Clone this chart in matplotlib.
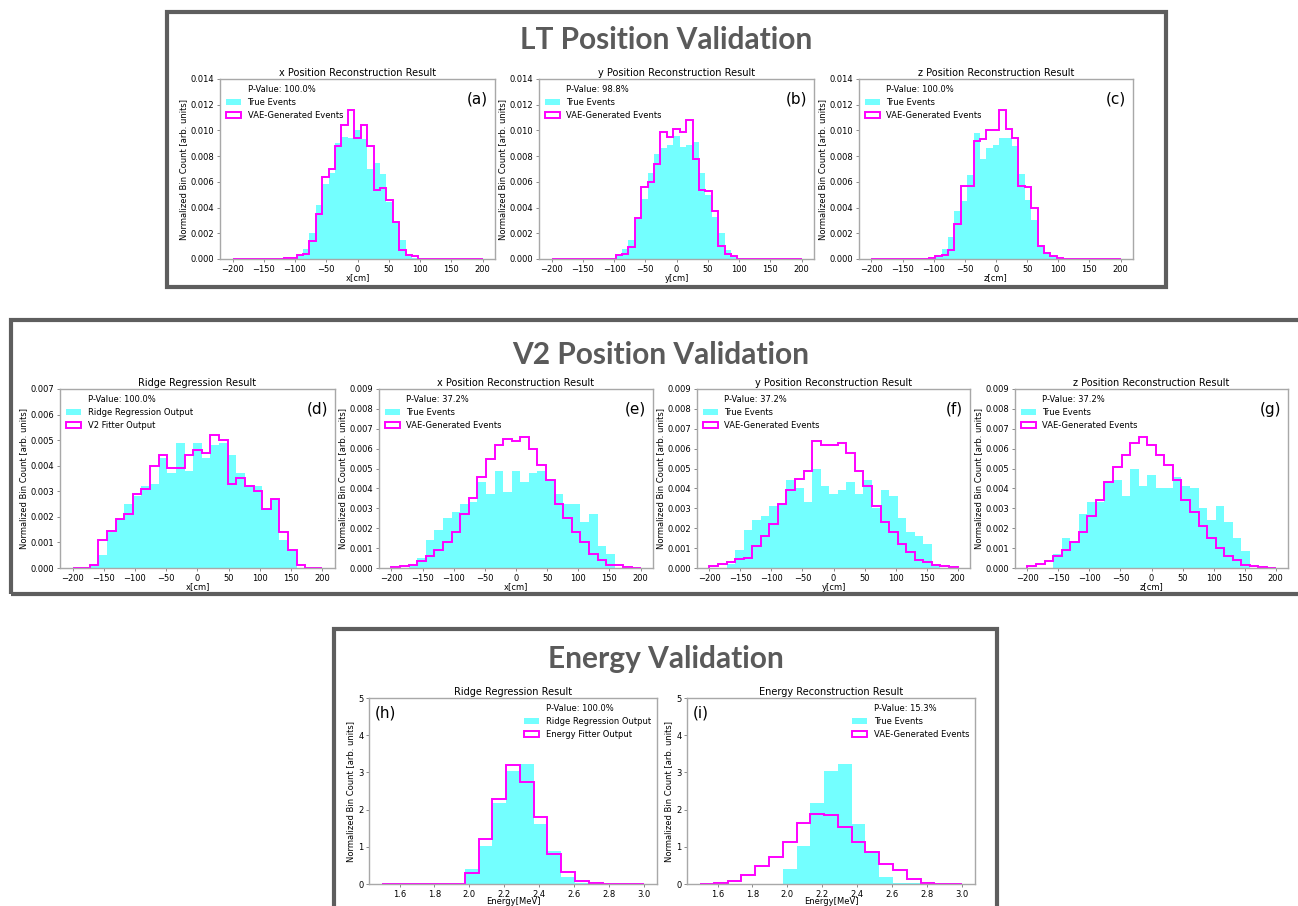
import numpy as np
import matplotlib
matplotlib.use('Agg')
import matplotlib.pyplot as plt
from matplotlib.patches import Rectangle, Patch

W, H = 1298, 906

# bin edges
lt_edges = np.linspace(-200, 200, 40)    # 39 bins
v2_edges = np.linspace(-200, 200, 30)    # 29 bins
en_edges = np.linspace(1.5, 3.0, 20)     # 19 bins

# LT panels (a)-(c)
lt_x_true = [0, 0, 0, 0, 0, 0, 0, 0, 0, 0.0001, 0.0004, 0.0008, 0.0020, 0.0042, 0.0058, 0.0067,
             0.0090, 0.0095, 0.0094, 0.0100, 0.0093, 0.0070, 0.0075, 0.0066, 0.0044, 0.0029,
             0.0015, 0.0004, 0.0001, 0, 0, 0, 0, 0, 0, 0, 0, 0, 0]
lt_x_vae = [0, 0, 0, 0, 0, 0, 0, 0, 0.0001, 0.0001, 0.0003, 0.0004, 0.0014, 0.0035, 0.0064, 0.0070,
            0.0088, 0.0104, 0.0116, 0.0094, 0.0104, 0.0088, 0.0054, 0.0055, 0.0046, 0.0029,
            0.0007, 0.0003, 0.0002, 0, 0, 0, 0, 0, 0, 0, 0, 0, 0]
lt_y_true = [0, 0, 0, 0, 0, 0, 0, 0, 0, 0.0001, 0.0004, 0.0008, 0.0015, 0.0031, 0.0047, 0.0067,
             0.0082, 0.0086, 0.0089, 0.0096, 0.0087, 0.0089, 0.0091, 0.0067, 0.0050, 0.0033,
             0.0020, 0.0007, 0.0002, 0.0001, 0, 0, 0, 0, 0, 0, 0, 0, 0]
lt_y_vae = [0, 0, 0, 0, 0, 0, 0, 0, 0, 0, 0.0003, 0.0004, 0.0009, 0.0032, 0.0056, 0.0060,
            0.0074, 0.0099, 0.0095, 0.0101, 0.0099, 0.0108, 0.0078, 0.0054, 0.0053, 0.0037,
            0.0010, 0.0004, 0.0002, 0, 0, 0, 0, 0, 0, 0, 0, 0, 0]
lt_z_true = [0, 0, 0, 0, 0, 0, 0, 0, 0, 0.0001, 0.0003, 0.0008, 0.0017, 0.0037, 0.0045, 0.0065,
             0.0098, 0.0078, 0.0086, 0.0089, 0.0094, 0.0094, 0.0088, 0.0066, 0.0046, 0.0030,
             0.0010, 0.0005, 0.0002, 0, 0, 0, 0, 0, 0, 0, 0, 0, 0]
lt_z_vae = [0, 0, 0, 0, 0, 0, 0, 0, 0, 0.0001, 0.0002, 0.0003, 0.0007, 0.0027, 0.0057, 0.0057,
            0.0092, 0.0093, 0.0100, 0.0100, 0.0116, 0.0101, 0.0094, 0.0057, 0.0056, 0.0040,
            0.0010, 0.0005, 0.0002, 0.0001, 0, 0, 0, 0, 0, 0, 0, 0, 0]

# V2 panels (d)-(g)
ridge_x = [0, 0, 0.00015, 0.0005, 0.0014, 0.0019, 0.0025, 0.0028, 0.0032, 0.0033, 0.0043, 0.0037,
           0.0049, 0.0038, 0.0049, 0.0043, 0.0048, 0.0049, 0.0044, 0.0037, 0.0032, 0.0032,
           0.0023, 0.0027, 0.0011, 0.0007, 0, 0, 0]
v2_fitter_x = [0, 0, 0.0001, 0.0011, 0.00145, 0.0019, 0.0021, 0.0029, 0.0031, 0.0040, 0.0044, 0.0039,
               0.0039, 0.0044, 0.0046, 0.0045, 0.0052, 0.0050, 0.0033, 0.0035, 0.0032, 0.0030,
               0.0023, 0.0027, 0.0014, 0.0007, 0.0001, 0, 0]
v2_x_vae = [0.00003, 0.0001, 0.00015, 0.00035, 0.0006, 0.0009, 0.0013, 0.0018, 0.0027, 0.0035,
            0.0046, 0.0055, 0.0062, 0.0065, 0.0064, 0.0066, 0.0060, 0.0052, 0.0044, 0.0032,
            0.0025, 0.0018, 0.0013, 0.0007, 0.0004, 0.00015, 0.00015, 0.00005, 0.00002]
v2_y_true = [0, 0, 0.0002, 0.0009, 0.0019, 0.0024, 0.0026, 0.0031, 0.0032, 0.0044, 0.0040, 0.0033,
             0.0050, 0.0041, 0.0037, 0.0039, 0.0043, 0.0037, 0.0044, 0.0030, 0.0039, 0.0036,
             0.0025, 0.0018, 0.0016, 0.0012, 0.0002, 0, 0]
v2_y_vae = [0.0001, 0.0002, 0.0003, 0.00045, 0.0005, 0.0011, 0.0016, 0.0022, 0.0032, 0.0039,
            0.0045, 0.0049, 0.0064, 0.0062, 0.0062, 0.0063, 0.0058, 0.0049, 0.0041, 0.0031,
            0.0023, 0.0018, 0.0012, 0.0008, 0.0004, 0.0003, 0.00015, 0.0001, 0.00003]
v2_z_true = [0, 0, 0, 0.0007, 0.0015, 0.0013, 0.0027, 0.0033, 0.0033, 0.0043, 0.0044, 0.0036,
             0.0050, 0.0041, 0.0047, 0.0040, 0.0040, 0.0046, 0.0041, 0.0040, 0.0030, 0.0024,
             0.0031, 0.0023, 0.0015, 0.00085, 0, 0, 0]
v2_z_vae = [0.0001, 0.0002, 0.00035, 0.0006, 0.0009, 0.0013, 0.0018, 0.0026, 0.0034, 0.0043,
            0.0051, 0.0057, 0.0063, 0.0066, 0.0062, 0.0057, 0.0052, 0.0044, 0.0034, 0.0028,
            0.0021, 0.0015, 0.0010, 0.0006, 0.0004, 0.00015, 0.0001, 0.00005, 0.00002]

# Energy panels (h)-(i)
ridge_energy = [0, 0, 0, 0, 0, 0, 0.39, 1.01, 2.17, 3.04, 3.22, 1.60, 0.90, 0.20, 0.04, 0.04, 0, 0, 0]
fitter_energy = [0, 0, 0, 0, 0, 0, 0.30, 1.22, 2.28, 3.19, 2.73, 1.79, 0.80, 0.31, 0.08, 0.02, 0, 0, 0]
vae_energy = [0.01, 0.03, 0.08, 0.24, 0.48, 0.73, 1.12, 1.64, 1.88, 1.86, 1.53, 1.12, 0.87, 0.55,
              0.37, 0.14, 0.04, 0.01, 0]

fig = plt.figure(figsize=(W / 100, H / 100), dpi=100)

FS = 6


def panel(rect, edges, filled, step, lab_fill, lab_step, pval, title, xlabel, ymax, tag,
          right_legend=False):
    l, r, t, b = rect
    ax = fig.add_axes([l / W, 1 - b / H, (r - l) / W, (b - t) / H])
    centers = (edges[:-1] + edges[1:]) / 2
    ax.hist(centers, bins=edges, weights=filled, histtype='stepfilled', color='cyan',
            alpha=0.55, label=lab_fill)
    ax.hist(centers, bins=edges, weights=step, histtype='step', color='magenta',
            lw=1.4, label=lab_step)
    ax.set_ylim(0, ymax)
    ax.set_title(title, fontsize=7, pad=2)
    ax.set_xlabel(xlabel, fontsize=FS, labelpad=-1 if right_legend else 0)
    ax.set_ylabel('Normalized Bin Count [arb. units]', fontsize=FS, labelpad=2)
    ax.tick_params(labelsize=FS, length=2.5, width=0.6, pad=1.5, color='#777777')
    for s in ax.spines.values():
        s.set_edgecolor('#a8a8a8')
        s.set_linewidth(1.0)
    h, lbl = ax.get_legend_handles_labels()
    h = [Patch(facecolor='none', edgecolor='none')] + h
    lbl = [pval] + lbl
    ax.legend(h, lbl, loc='upper right' if right_legend else 'upper left', frameon=False,
              fontsize=FS, borderaxespad=0.3, handlelength=1.8)
    if right_legend:
        ax.text(0.02, 0.96, tag, transform=ax.transAxes, ha='left', va='top', fontsize=11)
    else:
        ax.text(0.975, 0.93, tag, transform=ax.transAxes, ha='right', va='top', fontsize=11)
    return ax


# LT row
panel((220, 495, 79, 259), lt_edges, lt_x_true, lt_x_vae, 'True Events', 'VAE-Generated Events',
      'P-Value: 100.0%', 'x Position Reconstruction Result', 'x[cm]', 0.014, '(a)')
panel((539, 814, 79, 259), lt_edges, lt_y_true, lt_y_vae, 'True Events', 'VAE-Generated Events',
      'P-Value: 98.8%', 'y Position Reconstruction Result', 'y[cm]', 0.014, '(b)')
panel((859, 1133, 79, 259), lt_edges, lt_z_true, lt_z_vae, 'True Events', 'VAE-Generated Events',
      'P-Value: 100.0%', 'z Position Reconstruction Result', 'z[cm]', 0.014, '(c)')

# V2 row
panel((60, 335, 389, 568), v2_edges, ridge_x, v2_fitter_x, 'Ridge Regression Output',
      'V2 Fitter Output', 'P-Value: 100.0%', 'Ridge Regression Result', 'x[cm]', 0.007, '(d)')
panel((379, 653, 389, 568), v2_edges, ridge_x, v2_x_vae, 'True Events', 'VAE-Generated Events',
      'P-Value: 37.2%', 'x Position Reconstruction Result', 'x[cm]', 0.009, '(e)')
panel((697, 970, 389, 568), v2_edges, v2_y_true, v2_y_vae, 'True Events', 'VAE-Generated Events',
      'P-Value: 37.2%', 'y Position Reconstruction Result', 'y[cm]', 0.009, '(f)')
panel((1015, 1288, 389, 568), v2_edges, v2_z_true, v2_z_vae, 'True Events', 'VAE-Generated Events',
      'P-Value: 37.2%', 'z Position Reconstruction Result', 'z[cm]', 0.009, '(g)')

# Energy row
panel((369, 657, 698, 884), en_edges, ridge_energy, fitter_energy, 'Ridge Regression Output',
      'Energy Fitter Output', 'P-Value: 100.0%', 'Ridge Regression Result', 'Energy[MeV]', 5,
      '(h)', right_legend=True)
panel((687, 975, 698, 884), en_edges, ridge_energy, vae_energy, 'True Events',
      'VAE-Generated Events', 'P-Value: 15.3%', 'Energy Reconstruction Result', 'Energy[MeV]', 5,
      '(i)', right_legend=True)

# group boxes and headings
boxes = [(167, 12, 1166, 287), (11, 320, 1310, 594), (334, 629, 997, 915)]
for x0, y0, x1, y1 in boxes:
    fig.add_artist(Rectangle((x0 / W, 1 - y1 / H), (x1 - x0) / W, (y1 - y0) / H,
                             transform=fig.transFigure, fill=False, lw=3, ec='#5e5e5e',
                             clip_on=False))

headings = [('LT Position Validation', 666, 40), ('V2 Position Validation', 661, 355),
            ('Energy Validation', 666, 659)]
for txt, x, y in headings:
    fig.text(x / W, 1 - y / H, txt, ha='center', va='center', fontsize=21.5, fontweight='bold',
             color='#5a5a5a', family='Lato')

fig.savefig('out.png', dpi=100)
